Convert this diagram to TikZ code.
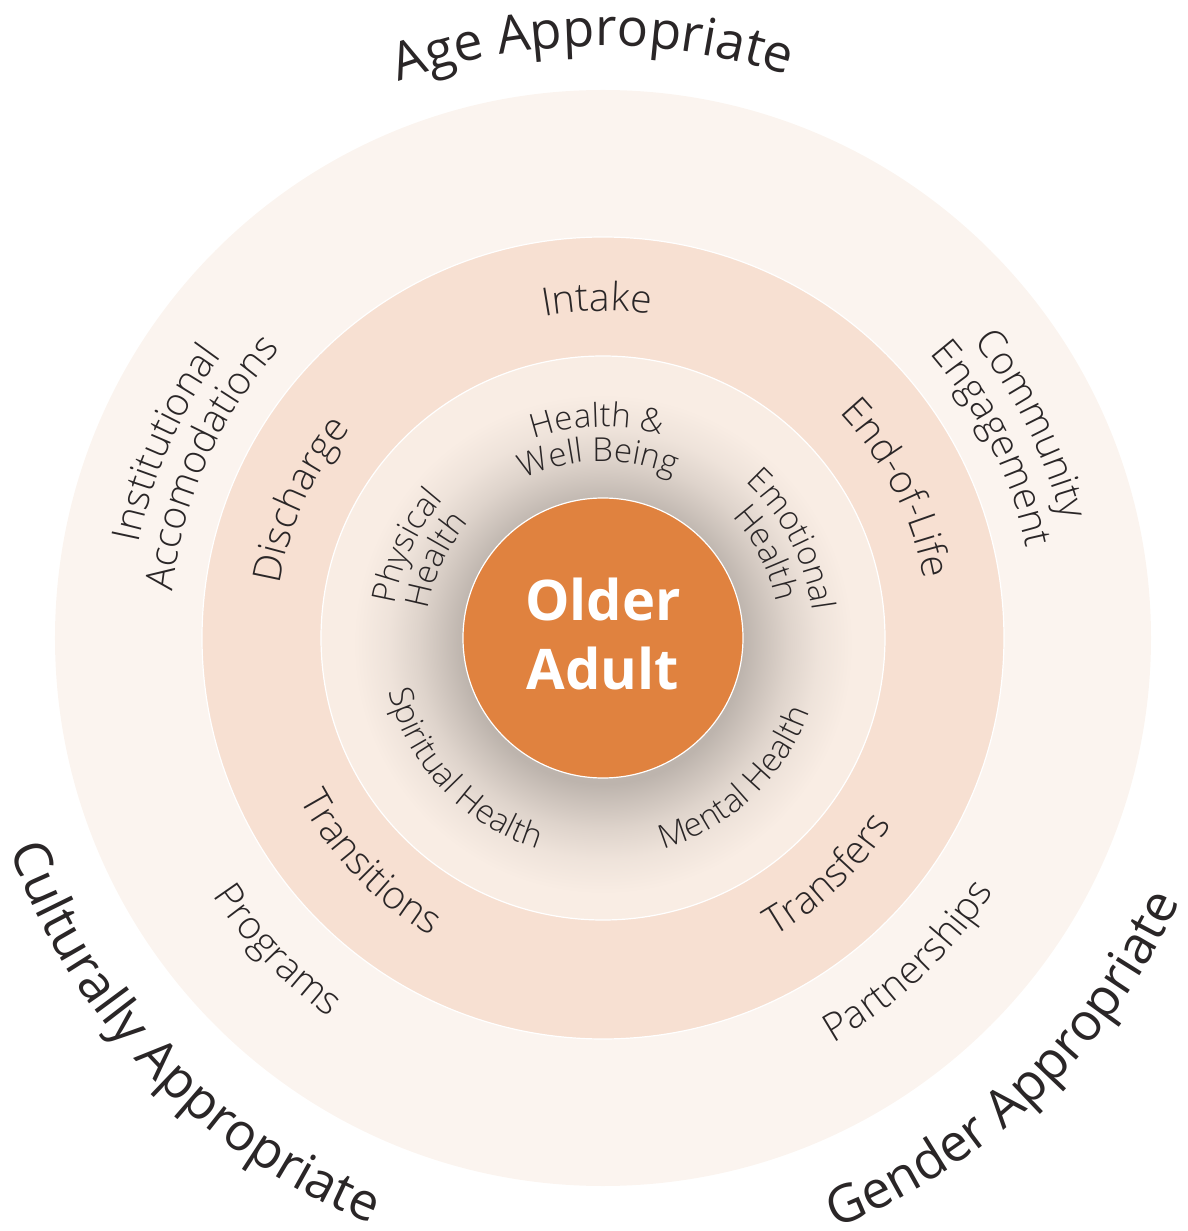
\documentclass[tikz,border=0pt]{standalone}
\usepackage{fontspec}
\setmainfont{Open Sans}
\newfontfamily\lightfont{Open Sans}[UprightFont={* Light}]
\usetikzlibrary{decorations.text}
\definecolor{outerring}{HTML}{FBF4EF}
\definecolor{midring}{HTML}{F7E0D2}
\definecolor{innerring}{HTML}{F9EDE4}
\definecolor{coreorange}{HTML}{E0823F}
\definecolor{labeltext}{HTML}{2A2627}
\definecolor{shadegray}{HTML}{BDB4AD}
\pgfdeclareradialshading{halo}{\pgfpoint{0bp}{0bp}}{%
  color(0bp)=(shadegray); color(14bp)=(shadegray);
  color(16bp)=(shadegray!75!innerring); color(18.5bp)=(shadegray!45!innerring);
  color(21.5bp)=(shadegray!18!innerring); color(25bp)=(innerring); color(50bp)=(innerring)}
\tikzset{
  bigtext/.style={decorate, decoration={text along path, text align=center, text color=labeltext,
    text={|\fontsize{52}{52}\selectfont|#1}}},
  ringtext/.style={decorate, decoration={text along path, text align=center, text color=labeltext,
    text={|\lightfont\fontsize{39}{39}\selectfont|#1}}},
  coretext/.style={decorate, decoration={text along path, text align=center, text color=labeltext,
    text={|\lightfont\fontsize{33}{33}\selectfont|#1}}},
  ringline/.style={draw=white, line width=1.2pt}
}
\begin{document}
\begin{tikzpicture}[x=1pt, y=1pt]
\useasboundingbox (-603,-593) rectangle (585,638);
% rings
\fill[outerring] (0,0) circle (548);
\fill[midring, ringline] (0,0) circle (401);
\fill[innerring, ringline] (0,0) circle (282);
\shade[shading=halo] (0,-6) circle (250);
\fill[coreorange, ringline] (0,0) circle (140);
\node[text=white, align=center, inner sep=0pt, font=\bfseries\fontsize{56}{69}\selectfont] (olderadult) at (0,4) {Older\\Adult};
% outside the rings
\path[bigtext={Age Appropriate}] (136:592) arc[start angle=136, end angle=46, radius=592];
\path[bigtext={Culturally Appropriate}] (179:630) arc[start angle=179, end angle=269, radius=630];
\path[bigtext={Gender Appropriate}] (268.5:634) arc[start angle=268.5, end angle=358.5, radius=634];
% outer ring
\path[ringtext={Institutional}] (201:474) arc[start angle=201, end angle=111, radius=474];
\path[ringtext={Accomodations}] (201:433) arc[start angle=201, end angle=111, radius=433];
\path[ringtext={Community}] (71.5:474) arc[start angle=71.5, end angle=-18.5, radius=474];
\path[ringtext={Engagement}] (71.5:433) arc[start angle=71.5, end angle=-18.5, radius=433];
\path[ringtext={Programs}] (178.8:468) arc[start angle=178.8, end angle=268.8, radius=468];
\path[ringtext={Partnerships}] (268.3:466) arc[start angle=268.3, end angle=358.3, radius=466];
% middle ring
\path[ringtext={Intake}] (136:327) arc[start angle=136, end angle=46, radius=327];
\path[ringtext={Discharge}] (200.5:328) arc[start angle=200.5, end angle=110.5, radius=328];
\path[ringtext={End-of-Life}] (72:326) arc[start angle=72, end angle=-18, radius=326];
\path[ringtext={Transitions}] (179:344) arc[start angle=179, end angle=269, radius=344];
\path[ringtext={Transfers}] (268.5:344) arc[start angle=268.5, end angle=358.5, radius=344];
% inner ring
\path[coretext={Health {\&}}] (136.5:211) arc[start angle=136.5, end angle=46.5, radius=211];
\path[coretext={Well Being}] (136.5:177) arc[start angle=136.5, end angle=46.5, radius=177];
\path[coretext={Physical}] (200:211) arc[start angle=200, end angle=110, radius=211];
\path[coretext={Health}] (200:177) arc[start angle=200, end angle=110, radius=177];
\path[coretext={Emotional}] (72.5:211) arc[start angle=72.5, end angle=-17.5, radius=211];
\path[coretext={Health}] (72.5:177) arc[start angle=72.5, end angle=-17.5, radius=177];
\path[coretext={Spiritual Health}] (178.4:221) arc[start angle=178.4, end angle=268.4, radius=221];
\path[coretext={Mental Health}] (268.1:219) arc[start angle=268.1, end angle=358.1, radius=219];
\end{tikzpicture}
\end{document}
